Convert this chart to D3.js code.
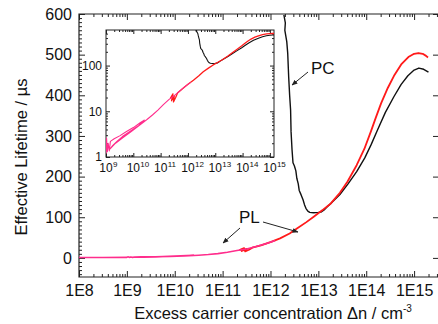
<!DOCTYPE html>
<html>
<head>
<meta charset="utf-8">
<script src="https://cdn.jsdelivr.net/npm/d3@7"></script>
<style>
  body { margin: 0; background: #fff; }
  svg { display: block; font-family: Arial, "Liberation Sans", sans-serif; }
</style>
</head>
<body>
<svg id="chart" width="438" height="324"></svg>
<script>
// tick values
const xTickExps = [8, 9, 10, 11, 12, 13, 14, 15];
const yTicks = [0, 100, 200, 300, 400, 500, 600];
const insetXTickExps = [9, 10, 11, 12, 13, 14, 15];
const insetYTicks = [1, 10, 100];

// PL, low injection part (pink), log10(n) and tau in us
const plPinkLogN = [8.0, 8.5, 9.0, 9.02, 9.05, 9.08, 9.12, 9.16, 9.3, 9.5, 9.75, 10.0, 10.25, 10.4,
  10.2, 9.9, 9.6, 9.4, 9.25, 9.15, 9.35, 9.6, 9.9, 10.2, 10.5, 10.7, 10.9, 11.1, 11.3, 11.5, 11.7, 11.9, 12.1];
const plPinkTau = [0.8, 1.0, 1.2, 2.6, 1.3, 2.0, 1.35, 2.2, 2.5, 2.9, 3.6, 4.4, 5.6, 6.4,
  4.9, 3.7, 2.8, 2.2, 1.8, 1.5, 2.0, 2.6, 3.5, 4.8, 6.6, 8.3, 10.6, 14, 18, 22, 28, 35, 43];

// PL, high injection part (red)
const plRedLogN = [11.35, 11.45, 11.4, 11.5, 11.47, 11.55, 11.62, 11.8, 12.0, 12.2, 12.4, 12.56, 12.75, 12.91,
  13.08, 13.26, 13.45, 13.61, 13.8, 13.96, 14.1, 14.2, 14.31, 14.45, 14.58, 14.73, 14.88, 15.0, 15.09,
  15.18, 15.25, 15.29];
const plRedTau = [19, 24, 17, 22, 16, 20, 25, 31, 39, 48, 60, 73, 88, 102,
  117, 134, 160, 188, 228, 268, 312, 345, 380, 418, 448, 476, 494, 502, 504,
  502, 497, 493];

// PC (black)
const pcLogN = [12.28, 12.31, 12.30, 12.34, 12.36, 12.38, 12.40, 12.42, 12.43, 12.45, 12.47, 12.50, 12.53,
  12.55, 12.58, 12.60, 12.64, 12.68, 12.71, 12.74, 12.78, 12.82, 12.9, 13.0, 13.06, 13.12, 13.18, 13.26,
  13.45, 13.62, 13.8, 13.97, 14.1, 14.24, 14.4, 14.58, 14.73, 14.87, 15.0, 15.1, 15.2, 15.3];
const pcTau = [598, 578, 560, 532, 503, 445, 400, 364, 310, 266, 234, 226, 214,
  196, 182, 166, 155, 143, 131, 122, 115, 112, 111, 112, 113, 118, 125, 134,
  156, 182, 212, 246, 278, 316, 358, 397, 427, 448, 462, 467, 464, 457];

const pink = "#ff2d8c", red = "#ff1a1a";

const toPts = (logN, tau) => logN.map((e, i) => [Math.pow(10, e), tau[i]]);
const plPink = toPts(plPinkLogN, plPinkTau);
const plRed = toPts(plRedLogN, plRedTau);
const pc = toPts(pcLogN, pcTau);

const logMinors = (lo, hi) => {
  const out = [];
  for (let e = lo; e <= hi; e++) for (let m = 2; m <= 9; m++) out.push(m * Math.pow(10, e));
  return out;
};

const svg = d3.select("#chart");
const defs = svg.append("defs");

// ---------- main plot ----------
const L = 79, R = 439, T = 14, B = 277;
const x = d3.scaleLog().domain([1e8, Math.pow(10, 15.52)]).range([L, R]);
const y = d3.scaleLinear().domain([-47, 600]).range([B, T]);

defs.append("clipPath").attr("id", "clipMain")
  .append("rect").attr("x", L).attr("y", T).attr("width", R - L).attr("height", B - T);

const xMinor = logMinors(8, 15).filter(v => v < x.domain()[1]);
const yMinor = d3.range(-40, 601, 10).filter(v => v % 100 !== 0);
const xMajor = xTickExps.map(e => Math.pow(10, e));

function styleAxis(g) {
  g.select(".domain").remove();
  g.selectAll("line").attr("stroke", "#222").attr("stroke-width", 1);
}

// bottom
svg.append("g").attr("transform", `translate(0,${B})`)
  .call(d3.axisBottom(x).tickValues(xMajor).tickSize(-6).tickPadding(8)
    .tickFormat(d => "1E" + Math.round(Math.log10(d))))
  .call(styleAxis)
  .call(g => g.selectAll("text").attr("font-size", 16).attr("fill", "#111").attr("font-family", null));
svg.append("g").attr("transform", `translate(0,${B})`)
  .call(d3.axisBottom(x).tickValues(xMinor).tickSize(-3).tickFormat(""))
  .call(styleAxis);
// top
svg.append("g").attr("transform", `translate(0,${T})`)
  .call(d3.axisTop(x).tickValues(xMajor).tickSize(-6).tickFormat(""))
  .call(styleAxis);
svg.append("g").attr("transform", `translate(0,${T})`)
  .call(d3.axisTop(x).tickValues(xMinor).tickSize(-3).tickFormat(""))
  .call(styleAxis);
// left
svg.append("g").attr("transform", `translate(${L},0)`)
  .call(d3.axisLeft(y).tickValues(yTicks).tickSize(-6).tickPadding(7))
  .call(styleAxis)
  .call(g => g.selectAll("text").attr("font-size", 16).attr("fill", "#111").attr("font-family", null));
svg.append("g").attr("transform", `translate(${L},0)`)
  .call(d3.axisLeft(y).tickValues(yMinor).tickSize(-3).tickFormat(""))
  .call(styleAxis);
// right
svg.append("g").attr("transform", `translate(${R},0)`)
  .call(d3.axisRight(y).tickValues(yTicks).tickSize(-6).tickFormat(""))
  .call(styleAxis);

// frame
svg.append("path")
  .attr("d", `M${L},${T}H${R}V${B}H${L}Z`)
  .attr("fill", "none").attr("stroke", "#222").attr("stroke-width", 1.2);

const line = d3.line().x(d => x(d[0])).y(d => y(d[1]));
const curves = svg.append("g").attr("clip-path", "url(#clipMain)").attr("fill", "none")
  .attr("stroke-linejoin", "round");
curves.append("path").datum(pc).attr("d", line).attr("stroke", "#111").attr("stroke-width", 1.4);
curves.append("path").datum(plRed).attr("d", line).attr("stroke", red).attr("stroke-width", 1.8);
curves.append("path").datum(plPink).attr("d", line).attr("stroke", pink).attr("stroke-width", 1.6);

// axis titles
svg.append("text")
  .attr("x", 273).attr("y", 319).attr("text-anchor", "middle")
  .attr("font-size", 16.5).attr("fill", "#111")
  .text("Excess carrier concentration \u0394n / cm")
  .append("tspan").attr("dy", -7).attr("font-size", 10).text("-3");
svg.append("text")
  .attr("transform", "translate(27,157) rotate(-90)")
  .attr("text-anchor", "middle").attr("font-size", 16.5).attr("fill", "#111")
  .text("Effective Lifetime / \u00b5s");

// annotations
defs.append("marker").attr("id", "arrow")
  .attr("viewBox", "0 0 10 10").attr("refX", 9).attr("refY", 5)
  .attr("markerWidth", 6).attr("markerHeight", 6).attr("orient", "auto")
  .append("path").attr("d", "M0,1L10,5L0,9Z").attr("fill", "#222");

const arrows = [[308, 72, 292, 85], [240, 228, 223, 243], [263, 222, 298, 232]];
svg.selectAll("line.arrow").data(arrows).enter().append("line")
  .attr("class", "arrow")
  .attr("x1", d => d[0]).attr("y1", d => d[1]).attr("x2", d => d[2]).attr("y2", d => d[3])
  .attr("stroke", "#222").attr("stroke-width", 1).attr("marker-end", "url(#arrow)");

svg.append("text").attr("x", 311).attr("y", 74).attr("font-size", 17).attr("fill", "#111").text("PC");
svg.append("text").attr("x", 239).attr("y", 223).attr("font-size", 17).attr("fill", "#111").text("PL");

// ---------- inset ----------
const iL = 106, iR = 274, iT = 30, iB = 157;
const xi = d3.scaleLog().domain([1e9, Math.pow(10, 15.15)]).range([iL, iR]);
const yi = d3.scaleLog().domain([1, 600]).range([iB, iT]);

defs.append("clipPath").attr("id", "clipInset")
  .append("rect").attr("x", iL).attr("y", iT).attr("width", iR - iL).attr("height", iB - iT);

svg.append("rect").attr("x", iL).attr("y", iT).attr("width", iR - iL).attr("height", iB - iT)
  .attr("fill", "#fff");

const xiMajor = insetXTickExps.map(e => Math.pow(10, e));
const xiMinor = logMinors(9, 15).filter(v => v < xi.domain()[1]);
const yiMinor = logMinors(0, 2).filter(v => v < 600);

const insetAxes = [
  [d3.axisBottom(xi).tickValues(xiMajor).tickSize(-4), `translate(0,${iB})`],
  [d3.axisBottom(xi).tickValues(xiMinor).tickSize(-2), `translate(0,${iB})`],
  [d3.axisTop(xi).tickValues(xiMajor).tickSize(-4), `translate(0,${iT})`],
  [d3.axisTop(xi).tickValues(xiMinor).tickSize(-2), `translate(0,${iT})`],
  [d3.axisLeft(yi).tickValues(insetYTicks).tickSize(-4), `translate(${iL},0)`],
  [d3.axisLeft(yi).tickValues(yiMinor).tickSize(-2), `translate(${iL},0)`],
  [d3.axisRight(yi).tickValues(insetYTicks).tickSize(-4), `translate(${iR},0)`],
  [d3.axisRight(yi).tickValues(yiMinor).tickSize(-2), `translate(${iR},0)`]
];
insetAxes.forEach(([ax, tr]) => {
  svg.append("g").attr("transform", tr).call(ax.tickFormat("")).call(styleAxis);
});

svg.append("rect").attr("x", iL).attr("y", iT).attr("width", iR - iL).attr("height", iB - iT)
  .attr("fill", "none").attr("stroke", "#222").attr("stroke-width", 1);

const iline = d3.line().x(d => xi(d[0])).y(d => yi(d[1]));
const icurves = svg.append("g").attr("clip-path", "url(#clipInset)").attr("fill", "none")
  .attr("stroke-linejoin", "round");
icurves.append("path").datum(pc).attr("d", iline).attr("stroke", "#111").attr("stroke-width", 1.1);
icurves.append("path").datum(plRed).attr("d", iline).attr("stroke", red).attr("stroke-width", 1.3);
icurves.append("path").datum(plPink).attr("d", iline).attr("stroke", pink).attr("stroke-width", 1.1);

// inset labels
svg.selectAll("text.iy").data(insetYTicks).enter().append("text")
  .attr("class", "iy")
  .attr("x", iL - 4).attr("y", d => yi(d)).attr("dy", "0.36em")
  .attr("text-anchor", "end").attr("font-size", 12).attr("fill", "#111")
  .text(d => d);

const ixl = svg.selectAll("g.ix").data(insetXTickExps).enter().append("g")
  .attr("class", "ix")
  .attr("transform", e => `translate(${xi(Math.pow(10, e))},172)`);
ixl.append("text").attr("text-anchor", "middle").attr("font-size", 12).attr("fill", "#111").text("10");
ixl.append("text").attr("x", 7).attr("y", -5).attr("font-size", 8).attr("fill", "#111").text(e => e);
</script>
</body>
</html>
